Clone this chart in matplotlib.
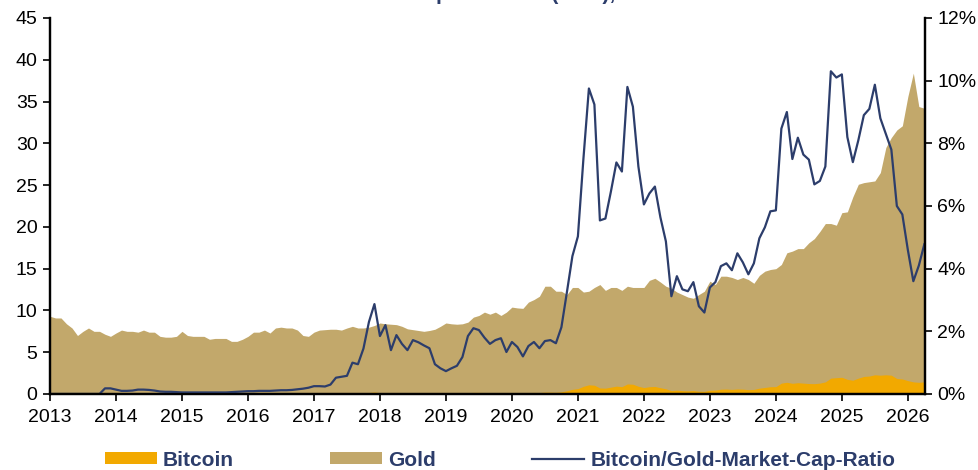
import numpy as np
import matplotlib
matplotlib.use("Agg")
import matplotlib.pyplot as plt
from matplotlib.ticker import FuncFormatter

# monthly values, Jan 2013 .. Apr 2026
gold = [
    9.3, 9.1, 9.1, 8.4, 7.9, 7.0, 7.5, 7.9, 7.5, 7.5, 7.15, 6.9,          # 2013
    7.3, 7.65, 7.5, 7.5, 7.4, 7.65, 7.4, 7.4, 6.9, 6.8, 6.8, 6.9,         # 2014
    7.5, 7.0, 6.9, 6.9, 6.9, 6.55, 6.65, 6.65, 6.65, 6.3, 6.3, 6.55,      # 2015
    6.9, 7.4, 7.4, 7.65, 7.3, 7.9, 8.0, 7.9, 7.9, 7.65, 7.0, 6.9,         # 2016
    7.4, 7.65, 7.7, 7.75, 7.75, 7.65, 7.9, 8.1, 7.9, 7.9, 8.0, 8.2,       # 2017
    8.5, 8.4, 8.35, 8.3, 8.1, 7.8, 7.7, 7.6, 7.5, 7.6, 7.75, 8.1,         # 2018
    8.5, 8.4, 8.35, 8.4, 8.6, 9.2, 9.4, 9.8, 9.55, 9.8, 9.4, 9.8,         # 2019
    10.4, 10.3, 10.25, 11.0, 11.3, 11.7, 12.9, 12.9, 12.3, 12.3, 11.9, 12.75,   # 2020
    12.75, 12.2, 12.3, 12.75, 13.1, 12.4, 12.75, 12.75, 12.4, 12.9, 12.75, 12.75,  # 2021
    12.75, 13.6, 13.85, 13.4, 12.9, 12.65, 12.2, 11.9, 11.6, 11.45, 11.9, 12.3,  # 2022
    13.5, 13.1, 14.1, 14.1, 13.95, 13.7, 13.95, 13.7, 13.25, 14.2, 14.7, 14.9,   # 2023
    15.0, 15.5, 16.9, 17.1, 17.4, 17.4, 18.1, 18.6, 19.45, 20.4, 20.4, 20.2,     # 2024
    21.7, 21.8, 23.6, 25.1, 25.3, 25.4, 25.5, 26.5, 29.5, 30.7, 31.6, 32.1,      # 2025
    35.6, 38.4, 34.4, 34.2,                                                      # 2026
]

bitcoin = [
    0, 0, 0, 0, 0, 0, 0, 0, 0, 0, 0.013, 0.013,
    0.012, 0.009, 0.009, 0.009, 0.011, 0.011, 0.01, 0.009, 0.007, 0.007, 0.005, 0.004,
    0.004, 0.004, 0.004, 0.004, 0.004, 0.004, 0.004, 0.004, 0.004, 0.004, 0.005, 0.005,
    0.006, 0.007, 0.007, 0.008, 0.007, 0.009, 0.01, 0.01, 0.01, 0.011, 0.012, 0.014,
    0.018, 0.019, 0.018, 0.023, 0.04, 0.042, 0.046, 0.08, 0.075, 0.115, 0.18, 0.23,
    0.16, 0.18, 0.12, 0.16, 0.13, 0.11, 0.13, 0.125, 0.115, 0.11, 0.075, 0.066,
    0.062, 0.069, 0.075, 0.1, 0.16, 0.19, 0.19, 0.18, 0.15, 0.17, 0.17, 0.13,
    0.17, 0.15, 0.12, 0.17, 0.19, 0.17, 0.22, 0.22, 0.2, 0.26, 0.39, 0.56,
    0.64, 0.92, 1.1, 1.05, 0.72, 0.7, 0.82, 0.94, 0.88, 1.2, 1.17, 0.92,
    0.77, 0.87, 0.9, 0.75, 0.62, 0.4, 0.46, 0.4, 0.38, 0.41, 0.33, 0.32,
    0.45, 0.47, 0.57, 0.59, 0.55, 0.6, 0.58, 0.52, 0.55, 0.7, 0.78, 0.87,
    0.88, 1.3, 1.4, 1.28, 1.35, 1.3, 1.25, 1.24, 1.3, 1.45, 1.9, 1.95,
    2.0, 1.75, 1.65, 1.9, 2.1, 2.15, 2.3, 2.25, 2.3, 2.25, 1.85, 1.8,
    1.6, 1.45, 1.4, 1.45,
]

# Bitcoin/Gold market cap ratio in %
ratio = [
    0, 0, 0, 0, 0, 0, 0, 0, 0, 0, 0.18, 0.18,
    0.14, 0.1, 0.1, 0.11, 0.14, 0.14, 0.13, 0.11, 0.08, 0.07, 0.07, 0.06,
    0.05, 0.05, 0.05, 0.05, 0.05, 0.05, 0.05, 0.05, 0.05, 0.06, 0.07, 0.08,
    0.09, 0.09, 0.1, 0.1, 0.1, 0.11, 0.12, 0.12, 0.13, 0.15, 0.17, 0.2,
    0.25, 0.25, 0.24, 0.3, 0.52, 0.55, 0.58, 1.0, 0.95, 1.45, 2.3, 2.87,
    1.85, 2.2, 1.4, 1.88, 1.6, 1.4, 1.72, 1.65, 1.55, 1.46, 0.95, 0.82,
    0.73, 0.82, 0.9, 1.18, 1.85, 2.1, 2.04, 1.8, 1.6, 1.72, 1.78, 1.34,
    1.66, 1.5, 1.2, 1.53, 1.66, 1.46, 1.69, 1.72, 1.62, 2.13, 3.25, 4.4,
    5.03, 7.5, 9.75, 9.24, 5.54, 5.6, 6.46, 7.39, 7.1, 9.8, 9.17, 7.26,
    6.05, 6.4, 6.62, 5.64, 4.87, 3.12, 3.76, 3.34, 3.28, 3.57, 2.8, 2.6,
    3.4, 3.57, 4.08, 4.17, 3.95, 4.49, 4.2, 3.82, 4.17, 4.97, 5.32, 5.83,
    5.86, 8.47, 9.0, 7.5, 8.18, 7.64, 7.48, 6.69, 6.8, 7.26, 10.3, 10.1,
    10.2, 8.2, 7.4, 8.1, 8.9, 9.1, 9.87, 8.8, 8.3, 7.8, 6.0, 5.73,
    4.6, 3.6, 4.1, 4.78,
]

years = list(range(2013, 2027))

t = 2013 + np.arange(len(gold)) / 12.0

navy = "#2c3d6b"
plt.rcParams["font.family"] = ["Liberation Sans", "DejaVu Sans"]

fig = plt.figure(figsize=(9.79, 4.70), dpi=100)
ax = fig.add_axes([50 / 979, 1 - 394 / 470, 875 / 979, 376 / 470])
ax2 = ax.twinx()

ax.fill_between(t, 0, gold, color="#c2a86b", lw=0, label="Gold", zorder=1)
ax.fill_between(t, 0, bitcoin, color="#f2a900", lw=0, label="Bitcoin", zorder=2)
ax2.plot(t, ratio, color=navy, lw=1.6, label="Bitcoin/Gold-Market-Cap-Ratio")

ax.set_xlim(2013, 2026.26)
ax.set_ylim(0, 45)
ax2.set_ylim(0, 12)
ax.set_xticks(years)
ax.set_xticklabels([str(y) for y in years])
ax.set_yticks(range(0, 46, 5))
ax2.set_yticks(range(0, 13, 2))
ax2.yaxis.set_major_formatter(FuncFormatter(lambda v, p: "%d%%" % v))

for a in (ax, ax2):
    a.spines["top"].set_visible(False)
    for s in ("left", "right", "bottom"):
        a.spines[s].set_linewidth(1.6)
    a.tick_params(direction="out", length=5, width=1.2, labelsize=14, pad=4)
ax.tick_params(axis="x", pad=6)

# title (cut off at the top edge in the original)
fig.text(336 / 979, 1.0, "Market Capitalization (USD), in Trillion", ha="left",
         va="baseline", fontsize=15, fontweight="bold", color=navy)

h1, l1 = ax.get_legend_handles_labels()
h2, l2 = ax2.get_legend_handles_labels()
handles = [h1[1], h1[0], h2[0]]
labels = [l1[1], l1[0], l2[0]]
leg = fig.legend(handles, labels, loc="center", bbox_to_anchor=(500 / 979, 1 - 460 / 470),
                 ncol=3, frameon=False, handlelength=2.5, handleheight=0.55,
                 handletextpad=0.3, columnspacing=4.6,
                 prop={"size": 15, "weight": "bold"})
for txt in leg.get_texts():
    txt.set_color(navy)

fig.savefig("out.png", dpi=100)
